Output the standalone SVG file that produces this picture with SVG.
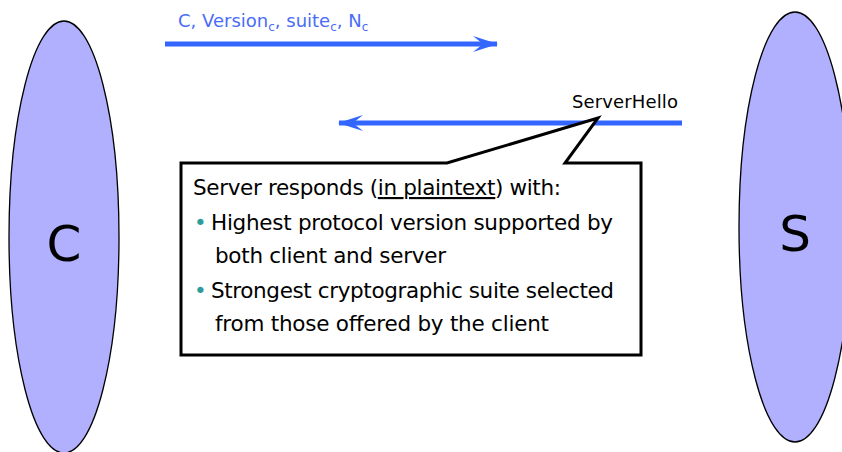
<svg xmlns="http://www.w3.org/2000/svg" width="842" height="452" viewBox="0 0 842 452">
<style>
.ell{fill:#b0b0ff;stroke:#000;stroke-width:1.3}
.big{font-family:"DejaVu Sans",Verdana,sans-serif;font-size:50px;fill:#000}
.msg{stroke:#3366ff;stroke-width:5;fill:none}
.lbl{font-family:"DejaVu Sans",Verdana,sans-serif;font-size:18px}
.box{font-family:"DejaVu Sans",Verdana,sans-serif;font-size:21.5px;fill:#000}
.bul{fill:#2e9c9c}
</style>
<defs>
<marker id="ah" viewBox="0 0 25 16" refX="24" refY="8" markerWidth="25" markerHeight="16" orient="auto" markerUnits="userSpaceOnUse">
<path d="M0,0 L25,8 L0,16 L10,8 Z" fill="#3366ff"/>
</marker>
</defs>
<g id="client">
<ellipse class="ell" cx="64" cy="237" rx="55" ry="216"/>
<text class="big" x="64" y="261" text-anchor="middle">C</text>
</g>
<g id="server">
<ellipse class="ell" cx="795" cy="227" rx="56" ry="215"/>
<text class="big" x="795" y="251" text-anchor="middle">S</text>
</g>
<g id="connectors">
<line class="msg" x1="165" y1="44" x2="497" y2="44" marker-end="url(#ah)"/>
<line class="msg" x1="682" y1="123" x2="339" y2="123" marker-end="url(#ah)"/>
</g>
<g id="label-clienthello">
<text class="lbl" x="178" y="27" fill="#4a6cf7">C, Version<tspan font-size="12" dy="4">c</tspan><tspan dy="-4">, suite</tspan><tspan font-size="12" dy="4">c</tspan><tspan dy="-4">, N</tspan><tspan font-size="12" dy="4">c</tspan></text>
</g>
<g id="label-serverhello">
<text class="lbl" x="572" y="108" fill="#000" textLength="106">ServerHello</text>
</g>
<g id="callout">
<path d="M181,163 L447,163 L598,118 L565,163 L641,163 L641,355 L181,355 Z" fill="#fff" stroke="#000" stroke-width="3" stroke-linejoin="miter"/>
<text class="box" x="193" y="195" textLength="368">Server responds (<tspan text-decoration="underline">in plaintext</tspan>) with:</text>
<text class="box bul" x="194" y="230">•</text>
<text class="box" x="211" y="230" textLength="402">Highest protocol version supported by</text>
<text class="box" x="215" y="263" textLength="231">both client and server</text>
<text class="box bul" x="194" y="298">•</text>
<text class="box" x="211" y="298" textLength="403">Strongest cryptographic suite selected</text>
<text class="box" x="215" y="331" textLength="334">from those offered by the client</text>
</g>
</svg>
